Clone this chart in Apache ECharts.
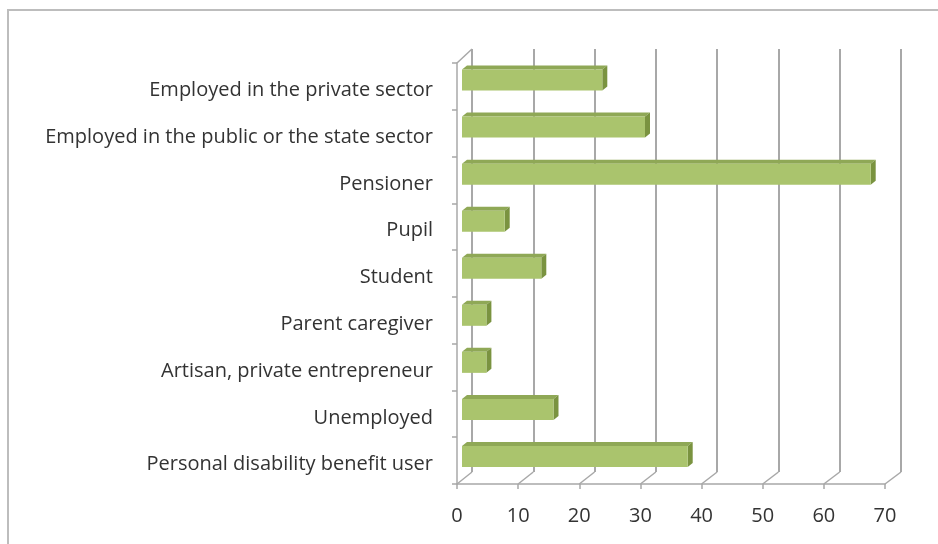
<!DOCTYPE html>
<html>
<head>
<meta charset="utf-8">
<script src="https://cdn.jsdelivr.net/npm/echarts@6/dist/echarts.min.js"></script>
<style>
  html, body { margin: 0; padding: 0; background: #ffffff; }
  #chart { width: 938px; height: 544px; }
</style>
</head>
<body>
<div id="chart"></div>
<script>
// Respondent status, top to bottom
const categories = [
  'Employed in the private sector',
  'Employed in the public or the state sector',
  'Pensioner',
  'Pupil',
  'Student',
  'Parent caregiver',
  'Artisan, private entrepreneur',
  'Unemployed',
  'Personal disability benefit user'
];
const values = [23, 30, 67, 7, 13, 4, 4, 15, 37];
const xTicks = [0, 10, 20, 30, 40, 50, 60, 70];

const axisMin = xTicks[0];
const axisMax = xTicks[xTicks.length - 1];
const axisStep = xTicks[1] - xTicks[0];

const lineColor = '#a8a8a8';
const textColor = '#333333';
const fontFamily = '"Open Sans", "Noto Sans", sans-serif';

const chart = echarts.init(document.getElementById('chart'), null, { renderer: 'canvas' });

// Three stacked planes: front (axes + labels), back (gridlines), middle (bars)
const grids = [
  { left: 457, top: 63, width: 428, height: 421 },
  { left: 472, top: 49, width: 429, height: 423 },
  { left: 462, top: 56.5, width: 427, height: 423.5 }
];

function renderBar(params, api) {
  const idx = api.value(1);
  const val = api.value(0);
  const start = api.coord([0, idx]);
  const end = api.coord([val, idx]);
  const h = 21, dx = 5, dy = 4;
  const x0 = start[0], x1 = end[0], y0 = start[1] - h / 2;
  return {
    type: 'group',
    children: [
      {
        type: 'polygon',
        shape: { points: [[x0, y0], [x1, y0], [x1 + dx, y0 - dy], [x0 + dx, y0 - dy]] },
        style: { fill: '#8fa856' }
      },
      {
        type: 'polygon',
        shape: { points: [[x1, y0], [x1 + dx, y0 - dy], [x1 + dx, y0 + h - dy], [x1, y0 + h]] },
        style: { fill: '#7a9340' }
      },
      {
        type: 'rect',
        shape: { x: x0, y: y0, width: x1 - x0, height: h },
        style: { fill: '#aac46d' }
      }
    ]
  };
}

chart.setOption({
  animation: false,
  backgroundColor: '#ffffff',
  grid: grids,
  xAxis: [
    {
      type: 'value', gridIndex: 0, min: axisMin, max: axisMax, interval: axisStep,
      axisLine: { show: true, lineStyle: { color: lineColor, width: 1.5 } },
      axisTick: { show: true, length: 5, lineStyle: { color: lineColor, width: 1.5 } },
      axisLabel: { color: textColor, fontSize: 20, fontFamily: fontFamily, margin: 22 },
      splitLine: { show: false }
    },
    {
      type: 'value', gridIndex: 1, min: axisMin, max: axisMax, interval: axisStep,
      axisLine: { show: false }, axisTick: { show: false }, axisLabel: { show: false },
      splitLine: { show: true, lineStyle: { color: lineColor, width: 2 } }
    },
    {
      type: 'value', gridIndex: 2, min: axisMin, max: axisMax, show: false
    }
  ],
  yAxis: [
    {
      type: 'category', gridIndex: 0, data: categories, inverse: true,
      axisLine: { show: true, lineStyle: { color: lineColor, width: 1.5 } },
      axisTick: { show: true, length: 5, lineStyle: { color: lineColor, width: 1.5 } },
      axisLabel: {
        margin: 24,
        formatter: v => '{t|' + v + '}',
        rich: {
          t: { color: textColor, fontSize: 20, fontFamily: fontFamily, padding: [8, 0, 0, 0] }
        }
      },
      splitLine: { show: false }
    },
    { type: 'category', gridIndex: 1, data: categories, inverse: true, show: false },
    { type: 'category', gridIndex: 2, data: categories, inverse: true, show: false }
  ],
  series: [
    {
      type: 'custom',
      xAxisIndex: 2,
      yAxisIndex: 2,
      renderItem: renderBar,
      encode: { x: 0, y: 1 },
      data: values.map((v, i) => [v, i])
    }
  ]
});

// Depth edges joining the front plane to the back plane
function gridRect(i) {
  return chart.getModel().getComponent('grid', i).coordinateSystem.getRect();
}
const front = gridRect(0);
const back = gridRect(1);
const depthLines = xTicks.map(v => {
  const xf = chart.convertToPixel({ xAxisIndex: 0 }, v);
  const xb = chart.convertToPixel({ xAxisIndex: 1 }, v);
  return {
    type: 'line',
    shape: { x1: xf, y1: front.y + front.height, x2: xb, y2: back.y + back.height },
    style: { stroke: lineColor, lineWidth: 1.5 },
    z: 1
  };
});
depthLines.push({
  type: 'line',
  shape: { x1: front.x, y1: front.y, x2: back.x, y2: back.y },
  style: { stroke: lineColor, lineWidth: 1.5 },
  z: 1
});

chart.setOption({
  graphic: [
    {
      type: 'rect',
      shape: { x: 8, y: 10, width: 1000, height: 600 },
      style: { fill: 'none', stroke: '#bdbdbd', lineWidth: 2 },
      silent: true
    }
  ].concat(depthLines)
});
</script>
</body>
</html>
